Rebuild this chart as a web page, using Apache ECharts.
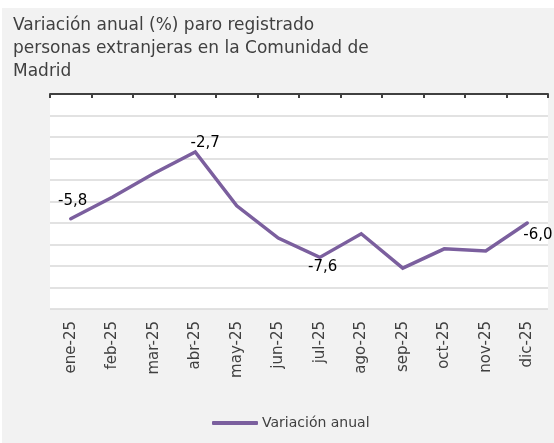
<!DOCTYPE html>
<html>
<head>
<meta charset="utf-8">
<script src="https://cdn.jsdelivr.net/npm/echarts@6/dist/echarts.min.js"></script>
<style>
  html, body { margin: 0; padding: 0; background: #ffffff; }
  #chart { position: absolute; left: 2px; top: 8px; width: 552px; height: 435px; background: #f2f2f2; }
</style>
</head>
<body>
<div id="chart"></div>
<script>
// Monthly categories and year-on-year change (%)
const months = ['ene-25', 'feb-25', 'mar-25', 'abr-25', 'may-25', 'jun-25',
                'jul-25', 'ago-25', 'sep-25', 'oct-25', 'nov-25', 'dic-25'];
const variacion = [-5.8, -4.8, -3.7, -2.7, -5.2, -6.7, -7.6, -6.5, -8.1, -7.2, -7.3, -6.0];
const seriesName = 'Variación anual';
const titleLines = ['Variación anual (%) paro registrado',
                    'personas extranjeras en la Comunidad de',
                    'Madrid'];

// Points that carry a value label, with their label placement
const labelPlacement = {
  0: { position: 'top', distance: 10, offset: [2, 0] },
  3: { position: 'top', distance: 1, offset: [10, 0] },
  6: { position: 'bottom', distance: 2, offset: [3, 0] },
  11: { position: 'bottom', distance: 3, offset: [-4, 2], align: 'left' }
};

const fmt = v => v.toFixed(1).replace('.', ',');

const seriesData = variacion.map((v, i) => {
  const p = labelPlacement[i];
  if (!p) return { value: v };
  return {
    value: v,
    label: Object.assign({
      show: true,
      formatter: fmt(v),
      fontFamily: 'DejaVu Sans',
      fontSize: 15,
      color: '#000000'
    }, p)
  };
});

const chart = echarts.init(document.getElementById('chart'), null, { renderer: 'canvas' });
chart.setOption({
  backgroundColor: '#f2f2f2',
  animation: false,
  title: {
    text: titleLines.join('\n'),
    left: 11,
    top: 6,
    padding: 0,
    textStyle: {
      fontFamily: 'DejaVu Sans',
      fontSize: 17,
      fontWeight: 'normal',
      color: '#404040',
      lineHeight: 23
    }
  },
  legend: {
    data: [seriesName],
    left: 210,
    top: 408,
    padding: 0,
    icon: 'roundRect',
    itemWidth: 46,
    itemHeight: 4,
    itemGap: 4,
    textStyle: { fontFamily: 'DejaVu Sans', fontSize: 14, color: '#404040', padding: [0, 0, 0, -1] }
  },
  grid: { left: 48, right: 6, top: 86, bottom: 134, backgroundColor: '#ffffff', show: true, borderWidth: 0 },
  xAxis: [
    {
      type: 'category',
      data: months,
      position: 'top',
      boundaryGap: true,
      axisLine: { show: true, onZero: false, lineStyle: { color: '#404040', width: 2 } },
      axisTick: { show: true, inside: true, length: 4, interval: 0, lineStyle: { color: '#404040', width: 2 } },
      axisLabel: { show: false, interval: 0 }
    },
    {
      type: 'category',
      data: months,
      position: 'bottom',
      boundaryGap: true,
      axisLine: { show: false, onZero: false },
      axisTick: { show: false },
      axisLabel: {
        interval: 0,
        rotate: 90,
        margin: 12,
        fontFamily: 'DejaVu Sans',
        fontSize: 15,
        color: '#404040'
      }
    }
  ],
  yAxis: {
    type: 'value',
    min: -10,
    max: 0,
    interval: 1,
    axisLine: { show: false },
    axisTick: { show: false },
    axisLabel: { show: false },
    splitLine: { show: true, lineStyle: { color: '#d9d9d9', width: 1.5 } }
  },
  series: [{
    name: seriesName,
    type: 'line',
    xAxisIndex: 0,
    data: seriesData,
    symbol: 'circle',
    symbolSize: 0.1,
    showSymbol: true,
    itemStyle: { color: '#7b5f9e' },
    lineStyle: { color: '#7b5f9e', width: 3.5, cap: 'round', join: 'miter' },
    label: { show: false }
  }]
});
</script>
</body>
</html>
